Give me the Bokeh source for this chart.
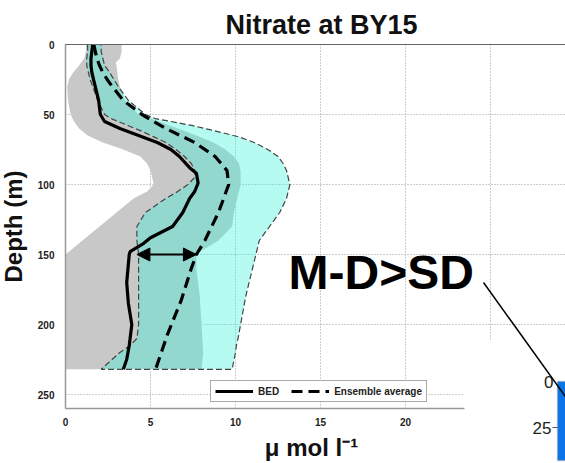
import math
from bokeh.plotting import figure
from bokeh.models import (Range1d, FixedTicker, Label, Arrow, NormalHead, BoxAnnotation,
                          Legend, LegendItem, LinearAxis, Grid)
from bokeh.embed import file_html
from bokeh.resources import INLINE

# ---------------- data ----------------
bed_depth = [0, 5, 10, 15, 20, 30, 40, 50, 55, 60, 65, 70, 75, 80, 88, 92, 99, 105, 110,
             120, 130, 138, 142, 148, 150, 170, 185, 200, 215, 225, 232]
bed_no3 = [1.6, 1.55, 1.5, 1.5, 1.55, 1.75, 1.95, 2.05, 2.3, 3.2, 4.3, 5.4, 6.2, 6.7, 7.3, 7.7,
           7.8, 7.6, 7.3, 6.9, 6.3, 5.0, 4.6, 3.8, 3.75, 3.6, 3.7, 3.9, 3.75, 3.6, 3.4]

ens_depth = [0, 5, 10, 15, 20, 25, 30, 40, 50, 60, 70, 80, 90, 100, 110, 120, 130, 140,
             150, 160, 183, 207, 232]
ens_no3 = [1.67, 1.75, 1.85, 2.0, 2.2, 2.45, 2.75, 3.4, 4.5, 5.9, 7.6, 8.8, 9.5, 9.6, 9.3,
           9.0, 8.6, 8.2, 7.7, 7.4, 6.8, 6.0, 5.3]

# ensemble spread (cyan band)
ens_band_depth = [0, 5, 10, 15, 20, 25, 30, 40, 50, 53, 55, 58, 62, 66, 70, 75, 80, 85, 90,
                  95, 100, 105, 110, 120, 130, 140, 150, 160, 180, 200, 210, 215, 220, 232]
ens_band_lo = [1.3, 1.3, 1.25, 1.25, 1.35, 1.45, 1.6, 1.9, 2.3, 2.7, 3.1, 3.7, 4.5, 5.2, 5.9,
               6.5, 7.0, 7.4, 7.6, 7.6, 7.2, 6.6, 5.9, 4.7, 4.2, 4.2, 4.3, 4.3, 4.3, 4.3, 4.2,
               3.8, 3.2, 2.1]
ens_band_hi = [2.1, 2.1, 2.2, 2.3, 2.6, 2.85, 3.1, 3.7, 4.7, 5.3, 6.2, 7.5, 8.9, 10.2, 11.1,
               11.9, 12.5, 12.8, 13.0, 13.1, 13.2, 13.1, 13.0, 12.6, 12.0, 11.4, 11.2, 11.0,
               10.6, 10.3, 10.15, 10.05, 10.0, 9.8]

# observation spread (grey band)
obs_band_depth = [0, 5, 10, 13, 15, 20, 25, 30, 40, 50, 55, 60, 65, 70, 75, 80, 85, 90, 95,
                  100, 105, 110, 120, 130, 140, 148, 150, 160, 180, 200, 220, 232]
obs_band_lo = [1.2, 1.2, 1.1, 0.9, 0.8, 0.45, 0.2, 0.1, 0.15, 0.3, 0.5, 0.8, 1.3, 2.2, 3.4,
               4.4, 4.8, 5.0, 5.1, 5.2, 4.8, 4.0, 3.0, 2.0, 1.0, 0.2, 0.0, 0.0, 0.0, 0.0, 0.0,
               0.0]
obs_band_hi = [3.3, 3.3, 3.2, 2.95, 3.0, 3.05, 3.1, 3.2, 3.5, 4.3, 5.5, 6.6, 7.7, 8.7, 9.4,
               9.9, 10.2, 10.3, 10.3, 10.3, 10.2, 10.1, 9.9, 9.8, 9.0, 7.9, 7.7, 7.7, 7.9,
               8.0, 8.1, 8.0]

x_tick_labels = [0, 5, 10, 15, 20]
x_grid_full = [0, 5, 10, 15, 20]
x_grid_short = [25]
y_grid_full = [0, 50, 100, 150, 200]
y_grid_short = [250]
y_ticks = [0, 50, 100, 150, 200, 250]
depth_max = 260

arrow_depth = 150
arrow_x = [4.2, 7.7]

inset_ticks = ["0", "25"]

# ---------------- layout helpers (pixel <-> data for the 565x463 canvas) ----------------
X0, KX = 65, 17.0     # page x of value 0, pixels per unit
Y0, KY = 44, 1.4      # page y of depth 0, pixels per metre


def dx(px):
    return (px - X0) / KX


def dy(py):
    return (py - Y0) / KY


X_END = dx(565)
X_CUT = dx(464)   # where the overlapping picture hides the lower right corner
Y_CUT = dy(339)

FONT = "Liberation Sans"
# frame covers the whole canvas; axes are placed at fixed locations
p = figure(width=565, height=463, output_backend="svg", toolbar_location=None,
           x_range=Range1d(dx(0), dx(565)), y_range=Range1d(dy(463), dy(0)),
           x_axis_location=None, y_axis_location=None,
           min_border_left=0, min_border_right=0, min_border_top=0,
           min_border_bottom=0)
p.background_fill_color = "white"
p.border_fill_color = "white"
p.outline_line_color = None
p.center = [r for r in p.center if not isinstance(r, Grid)]

xaxis = LinearAxis(fixed_location=depth_max, ticker=FixedTicker(ticks=x_tick_labels),
                   bounds=(0, X_CUT))
yaxis = LinearAxis(fixed_location=0, ticker=FixedTicker(ticks=y_ticks),
                   axis_label="Depth (m)", bounds=(0, depth_max))
p.add_layout(xaxis, "below")
p.add_layout(yaxis, "left")
for ax in (xaxis, yaxis):
    ax.axis_line_color = "#999999"
    ax.axis_line_width = 1.5
    ax.major_tick_line_color = None
    ax.minor_tick_line_color = None
    ax.major_label_text_font = FONT
    ax.major_label_text_font_style = "bold"
    ax.major_label_text_font_size = "10px"
    ax.major_label_text_color = "#222222"
    ax.axis_label_text_font = FONT
    ax.axis_label_text_font_style = "bold"
    ax.axis_label_text_color = "#111111"
xaxis.major_label_standoff = 3
yaxis.major_label_standoff = 5
yaxis.axis_label_text_font_size = "24px"
yaxis.axis_label_standoff = 8

grids = [
    Grid(dimension=0, ticker=FixedTicker(ticks=x_grid_full), cross_bounds=(0, depth_max)),
    Grid(dimension=0, ticker=FixedTicker(ticks=x_grid_short), cross_bounds=(0, Y_CUT)),
    Grid(dimension=1, ticker=FixedTicker(ticks=y_grid_full), cross_bounds=(0, X_END)),
    Grid(dimension=1, ticker=FixedTicker(ticks=y_grid_short), cross_bounds=(0, X_CUT)),
]
for g in grids:
    g.grid_line_color = "#9a9a9a"
    g.grid_line_dash = "1 2"
    g.grid_line_width = 1
    p.add_layout(g, "center")

# top border of the axes box
p.add_layout(Arrow(x_start=0, y_start=0, x_end=X_END, y_end=0, end=None,
                   line_color="#666666", line_width=1))

# title and x axis label
p.add_layout(Label(x=dx(321), y=dy(24), text="Nitrate at BY15", text_font=FONT,
                   text_font_style="bold", text_font_size="27px", text_align="center",
                   text_baseline="alphabetic", text_color="#111111"))
p.add_layout(Label(x=dx(311), y=dy(447), text="\u03bc mol l\u207b\u00b9", text_font=FONT,
                   text_font_style="bold", text_font_size="24px", text_align="center",
                   text_baseline="alphabetic", text_color="#111111"))

# bands
p.patch(obs_band_lo + obs_band_hi[::-1], obs_band_depth + obs_band_depth[::-1],
        fill_color="#c8c8c8", line_color=None)
p.patch(ens_band_lo + ens_band_hi[::-1], ens_band_depth + ens_band_depth[::-1],
        fill_color="#32f5d7", fill_alpha=0.36, line_color=None)
p.patch(ens_band_lo + ens_band_hi[::-1], ens_band_depth + ens_band_depth[::-1],
        fill_color=None, line_color="#444444", line_width=1.2, line_dash="6 3")

r_bed = p.line(bed_no3, bed_depth, line_color="black", line_width=3.2)
r_ens = p.line(ens_no3, ens_depth, line_color="black", line_width=3.2, line_dash="11 6")

# double arrow (model minus data)
p.add_layout(Arrow(x_start=arrow_x[0], y_start=arrow_depth, x_end=arrow_x[1], y_end=arrow_depth,
                   start=NormalHead(size=13, fill_color="black", line_color="black"),
                   end=NormalHead(size=13, fill_color="black", line_color="black"),
                   line_color="black", line_width=2))

legend = Legend(items=[LegendItem(label="BED", renderers=[r_bed]),
                       LegendItem(label="Ensemble average", renderers=[r_ens])],
                location=(210, 61), orientation="horizontal")
legend.label_text_font = FONT
legend.label_text_font_style = "bold"
legend.label_text_font_size = "10px"
legend.label_text_color = "#222222"
legend.glyph_width = 38
legend.glyph_height = 12
legend.label_height = 12
legend.label_standoff = 5
legend.spacing = 12
legend.padding = 4
legend.margin = 0
legend.border_line_color = "#555555"
legend.border_line_width = 1
legend.background_fill_color = "white"
legend.background_fill_alpha = 1
p.add_layout(legend, "center")

p.add_layout(Label(x=dx(288), y=dy(272), text="M-D>SD", text_font=FONT,
                   text_font_style="bold", text_font_size="48px", text_align="left",
                   text_baseline="alphabetic", text_color="black"))

# partially visible inset chart
p.add_layout(BoxAnnotation(left=dx(557), right=dx(600), top=dy(381), bottom=dy(460),
                           fill_color="#0a74e8", fill_alpha=1, line_color="#888888",
                           line_width=1.5))
p.add_layout(Label(x=dx(553), y=dy(381), text=inset_ticks[0], text_font=FONT,
                   text_font_size="17px", text_align="right", text_baseline="middle",
                   text_color="#222222"))
p.add_layout(Label(x=dx(551), y=dy(427), text=inset_ticks[1], text_font=FONT,
                   text_font_size="17px", text_align="right", text_baseline="middle",
                   text_color="#222222"))
p.add_layout(Arrow(x_start=dx(552), y_start=dy(427), x_end=dx(557), y_end=dy(427),
                   end=None, line_color="#555555", line_width=1))
# pointer line
p.add_layout(Arrow(x_start=dx(483), y_start=dy(282), x_end=dx(572), y_end=dy(406),
                   end=None, line_color="black", line_width=1.5))

open("out.html", "w").write(file_html(p, INLINE))
